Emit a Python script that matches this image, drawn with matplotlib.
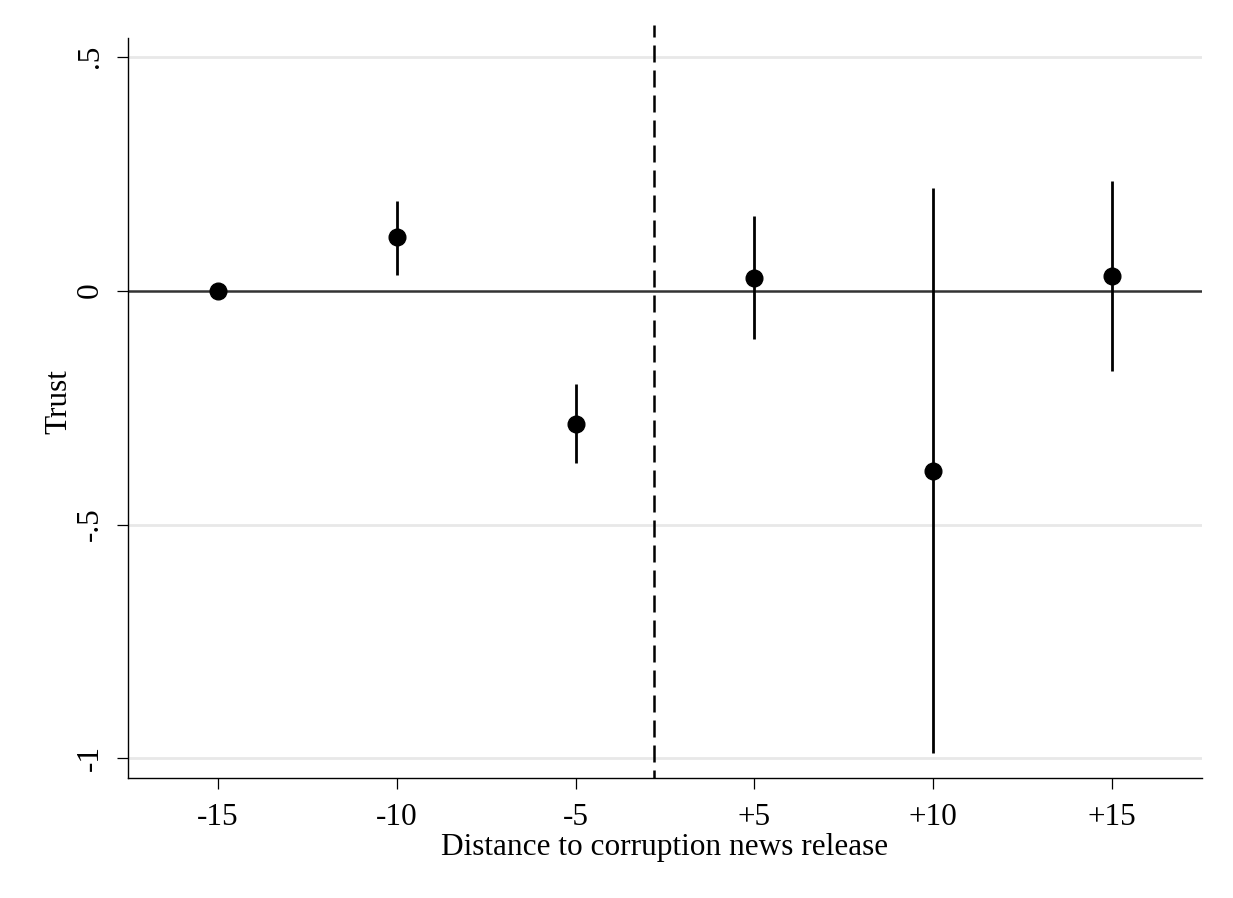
import numpy as np
import matplotlib.pyplot as plt

plt.rcParams['font.family'] = ['Liberation Serif', 'DejaVu Serif']

# event-time coefficients with 95% CI
labels = ['-15', '-10', '-5', '+5', '+10', '+15']
coef = [0.0, 0.114, -0.284, 0.028, -0.385, 0.032]
ci_low = [0.0, 0.034, -0.368, -0.104, -0.988, -0.172]
ci_high = [0.0, 0.191, -0.199, 0.160, 0.219, 0.235]

x = np.arange(1, len(labels) + 1)
coef = np.array(coef)
yerr = np.array([coef - np.array(ci_low), np.array(ci_high) - coef])

fig = plt.figure(figsize=(12.33, 8.98), dpi=100)
ax = fig.add_axes([0.1041, 0.134, 0.8705, 0.8382])

# grid lines (no grid at zero, the reference line sits there)
for g in [0.5, -0.5, -1]:
    ax.axhline(g, color='#e8e8e8', lw=2, zorder=0)
ax.axhline(0, color='#333333', lw=1.8, zorder=1)

ax.plot([3.44, 3.44], [0.568, -1.041], color='black', lw=1.8,
        linestyle=(2, (6.8, 3.2)), zorder=2)

ax.errorbar(x, coef, yerr=yerr, fmt='o', color='black', ecolor='black',
            elinewidth=2, markersize=12, capsize=0, zorder=3)

ax.set_xlim(0.5, 6.5)
ax.set_ylim(-1.041, 0.568)
ax.set_xticks(x)
ax.set_xticklabels(labels)
ax.set_yticks([-1, -0.5, 0, 0.5])
ax.set_yticklabels(['-1', '-.5', '0', '.5'], rotation=90, va='center')

for s in ['top', 'right']:
    ax.spines[s].set_visible(False)
for s in ['left', 'bottom']:
    ax.spines[s].set_linewidth(1)
ax.spines['left'].set_bounds(-1.041, 0.54)

ax.tick_params(axis='both', labelsize=22.5, length=8, width=0.9, pad=10)
ax.tick_params(axis='y', pad=9)

ax.set_xlabel('Distance to corruption news release', fontsize=22.5, labelpad=1)
ax.set_ylabel('Trust', fontsize=22.5, labelpad=2)

fig.savefig('out.png', dpi=100, facecolor='white')
